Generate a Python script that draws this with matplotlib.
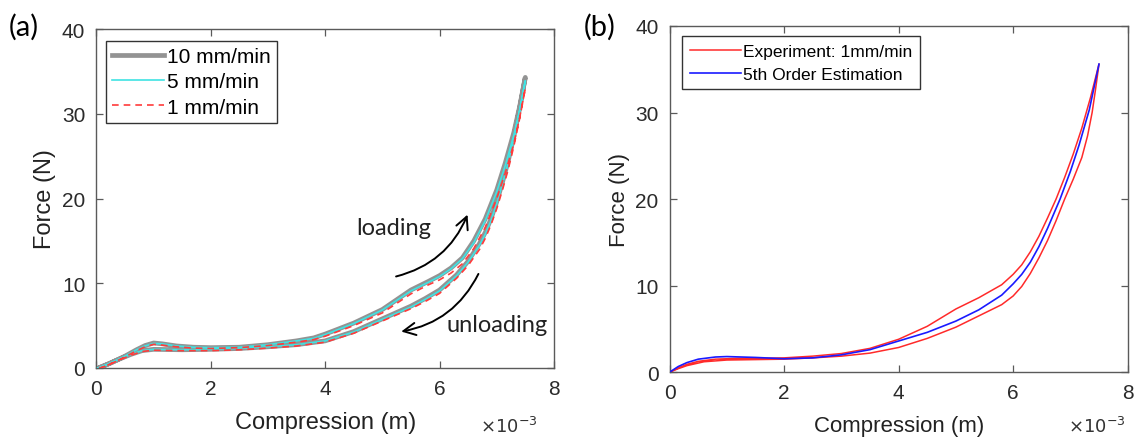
import matplotlib
matplotlib.use("Agg")
import matplotlib.pyplot as plt
from matplotlib import font_manager

# pick a narrow sans if there is one, MATLAB text in the source looks squeezed
names = {f.name for f in font_manager.fontManager.ttflist}
base_font = "Liberation Sans Narrow" if "Liberation Sans Narrow" in names else "Liberation Sans"
plt.rcParams['font.family'] = [base_font, 'DejaVu Sans']

# ---- panel (a): three rates, loading then unloading (x in 1e-3 m) ----
xa_load = [0, 0.25, 0.5, 0.7, 0.85, 1.0, 1.15, 1.4, 1.7, 2.0, 2.5, 3.0, 3.5, 3.8, 4.0, 4.5, 5.0, 5.5,
           5.8, 6.0, 6.2, 6.4, 6.6, 6.8, 7.0, 7.15, 7.3, 7.4, 7.5]
xa_unld = [7.5, 7.4, 7.3, 7.2, 7.1, 7.0, 6.9, 6.8, 6.7, 6.5, 6.3, 6.1, 6.0, 5.75, 5.5, 5.0, 4.5, 4.0,
           3.5, 3.0, 2.5, 2.0, 1.5, 1.0, 0.8, 0.6, 0.4, 0.2, 0]

f10_load = [-0.1, 0.6, 1.4, 2.15, 2.65, 2.95, 2.85, 2.6, 2.45, 2.4, 2.45, 2.75, 3.2, 3.55, 4.0, 5.3, 6.9, 9.2,
            10.2, 10.9, 11.8, 13.0, 15.0, 17.6, 21.0, 24.2, 27.8, 30.8, 34.3]
f10_unld = [34.3, 30.6, 27.3, 24.4, 21.9, 19.6, 17.6, 16.0, 14.7, 12.6, 11.0, 9.8, 9.2, 8.2, 7.3, 5.8, 4.3, 3.2,
            2.75, 2.5, 2.3, 2.2, 2.15, 2.2, 2.05, 1.6, 1.05, 0.45, -0.1]

f5_load = [-0.1, 0.6, 1.4, 2.15, 2.6, 2.9, 2.85, 2.6, 2.45, 2.4, 2.45, 2.75, 3.2, 3.5, 3.95, 5.25, 6.85, 9.1,
           10.1, 10.8, 11.7, 12.9, 14.8, 17.4, 20.8, 23.9, 27.5, 30.4, 33.9]
f5_unld = [33.9, 30.3, 27.0, 24.2, 21.7, 19.4, 17.4, 15.8, 14.5, 12.5, 10.9, 9.7, 9.1, 8.1, 7.2, 5.75, 4.25, 3.2,
           2.75, 2.5, 2.3, 2.2, 2.15, 2.2, 2.05, 1.6, 1.05, 0.45, -0.1]

f1_load = [-0.2, 0.5, 1.3, 2.05, 2.5, 2.8, 2.7, 2.5, 2.35, 2.3, 2.4, 2.65, 3.05, 3.35, 3.75, 5.0, 6.5, 8.75,
           9.8, 10.4, 11.2, 12.3, 14.1, 16.6, 20.0, 23.0, 26.5, 29.5, 33.0]
f1_unld = [33.0, 29.4, 26.2, 23.4, 21.0, 18.8, 16.9, 15.3, 14.0, 12.1, 10.6, 9.4, 8.8, 7.85, 7.0, 5.55, 4.1, 3.05,
           2.6, 2.35, 2.15, 2.05, 2.05, 2.1, 1.95, 1.5, 0.95, 0.35, -0.2]

# ---- panel (b): experiment loop at 1 mm/min and 5th order fit ----
xb_load = [0, 0.15, 0.3, 0.5, 0.8, 1.2, 1.6, 2.0, 2.5, 3.0, 3.5, 4.0, 4.5, 5.0, 5.4, 5.8, 6.0, 6.15,
           6.3, 6.45, 6.6, 6.75, 6.9, 7.05, 7.2, 7.35, 7.5]
fb_load = [0, 0.5, 0.9, 1.25, 1.5, 1.6, 1.6, 1.65, 1.85, 2.15, 2.75, 3.8, 5.3, 7.3, 8.6, 10.1, 11.3, 12.4,
           13.9, 15.7, 17.8, 20.0, 22.5, 25.2, 28.2, 31.7, 35.6]
xb_unld = [7.5, 7.44, 7.38, 7.3, 7.2, 7.05, 6.9, 6.75, 6.6, 6.45, 6.3, 6.15, 6.0, 5.8, 5.4, 5.0, 4.5,
           4.0, 3.5, 3.0, 2.5, 2.0, 1.5, 1.0, 0.6, 0.3, 0.15, 0]
fb_unld = [35.6, 32.7, 30.0, 27.3, 24.8, 22.3, 20.0, 17.5, 15.2, 13.2, 11.4, 9.9, 8.8, 7.8, 6.5, 5.2, 3.9,
           2.85, 2.2, 1.85, 1.65, 1.5, 1.45, 1.4, 1.2, 0.75, 0.4, 0]
xb_fit = [0, 0.15, 0.3, 0.5, 0.8, 1.0, 1.5, 2.0, 2.5, 3.0, 3.5, 4.0, 4.5, 5.0, 5.4, 5.8, 6.0, 6.15,
          6.3, 6.45, 6.6, 6.82, 7.0, 7.15, 7.33, 7.5]
fb_fit = [0, 0.65, 1.1, 1.5, 1.75, 1.8, 1.7, 1.55, 1.65, 2.0, 2.6, 3.6, 4.6, 5.9, 7.2, 8.9, 10.2, 11.3,
          12.7, 14.5, 16.6, 20.0, 23.2, 26.2, 30.3, 35.6]

axis_gray = '#5a5a5a'
tick_vals = [0, 2, 4, 6, 8]
ytick_vals = [0, 10, 20, 30, 40]


def matlab_axes(ax, label_size, tick_size):
    ax.set_xlim(0, 8)
    ax.set_ylim(0, 40)
    ax.set_xticks(tick_vals)
    ax.set_yticks(ytick_vals)
    for s in ax.spines.values():
        s.set_color(axis_gray)
        s.set_linewidth(1.0)
    ax.tick_params(direction='in', top=True, right=True, length=5, width=0.9,
                   color=axis_gray, labelcolor='#2b2b2b', labelsize=tick_size, pad=8)
    ax.set_xlabel('Compression (m)', fontsize=label_size, color='#222222', labelpad=9)
    ax.set_ylabel('Force (N)', fontsize=label_size, color='#222222', labelpad=4)


fig = plt.figure(figsize=(11.35, 4.39), dpi=100)
ax1 = fig.add_axes([0.085, 0.1595, 0.403, 0.772])
ax2 = fig.add_axes([0.590, 0.150, 0.4035, 0.7885])

# (a)
ax1.plot(xa_load + xa_unld, f10_load + f10_unld, color='#939393', lw=3.4, label='10 mm/min', zorder=2,
         solid_joinstyle='round')
ax1.plot(xa_load + xa_unld, f5_load + f5_unld, color='#3fe3e3', lw=1.2, label='5 mm/min', zorder=3)
ax1.plot(xa_load + xa_unld, f1_load + f1_unld, color='#ff3b3b', lw=1.2, ls=(0, (4, 3)), label='1 mm/min', zorder=4)
matlab_axes(ax1, 17, 15)
leg = ax1.legend(loc='upper left', bbox_to_anchor=(0.02, 0.965), fontsize=15, fancybox=False,
                 edgecolor='#333333', framealpha=1, handlelength=2.5, handletextpad=0.15,
                 borderpad=0.3, labelspacing=0.3, borderaxespad=0)
leg.get_frame().set_linewidth(1.0)

ax1.annotate('', xy=(6.49, 18.1), xytext=(5.24, 10.8),
             arrowprops=dict(arrowstyle='->', color='black', lw=1.4, mutation_scale=22,
                             connectionstyle='arc3,rad=0.25', shrinkA=0, shrinkB=0))
ax1.annotate('', xy=(5.33, 4.3), xytext=(6.68, 11.1),
             arrowprops=dict(arrowstyle='->', color='black', lw=1.4, mutation_scale=22,
                             connectionstyle='arc3,rad=-0.25', shrinkA=0, shrinkB=0))
ax1.text(5.2, 16.6, 'loading', fontsize=17, family=['Lato', 'DejaVu Sans'], ha='center', va='center', color='#222222')
ax1.text(7.0, 5.1, 'unloading', fontsize=17, family=['Lato', 'DejaVu Sans'], ha='center', va='center', color='#222222')

# (b)
ax2.plot(xb_load + xb_unld, fb_load + fb_unld, color='#ff2a2a', lw=1.1, label='Experiment: 1mm/min', zorder=2)
ax2.plot(xb_fit, fb_fit, color='#1a1aff', lw=1.2, label='5th Order Estimation', zorder=3)
matlab_axes(ax2, 16, 15)
leg2 = ax2.legend(loc='upper left', bbox_to_anchor=(0.028, 0.972), fontsize=12.5, fancybox=False,
                  edgecolor='#333333', framealpha=1, handlelength=2.9, handletextpad=0.15,
                  borderpad=0.45, labelspacing=0.45, borderaxespad=0)
leg2.get_frame().set_linewidth(1.0)

# exponent labels and panel letters
fig.text(0.474, 0.004, r'$\times10^{-3}$', fontsize=13, ha='right', va='bottom', color='#333333')
fig.text(0.992, 0.004, r'$\times10^{-3}$', fontsize=13, ha='right', va='bottom', color='#333333')
fig.text(0.008, 0.968, '(a)', fontsize=21, family=['Lato', 'DejaVu Sans'], ha='left', va='top')
fig.text(0.514, 0.968, '(b)', fontsize=21, family=['Lato', 'DejaVu Sans'], ha='left', va='top')

fig.savefig('out.png', dpi=100)
